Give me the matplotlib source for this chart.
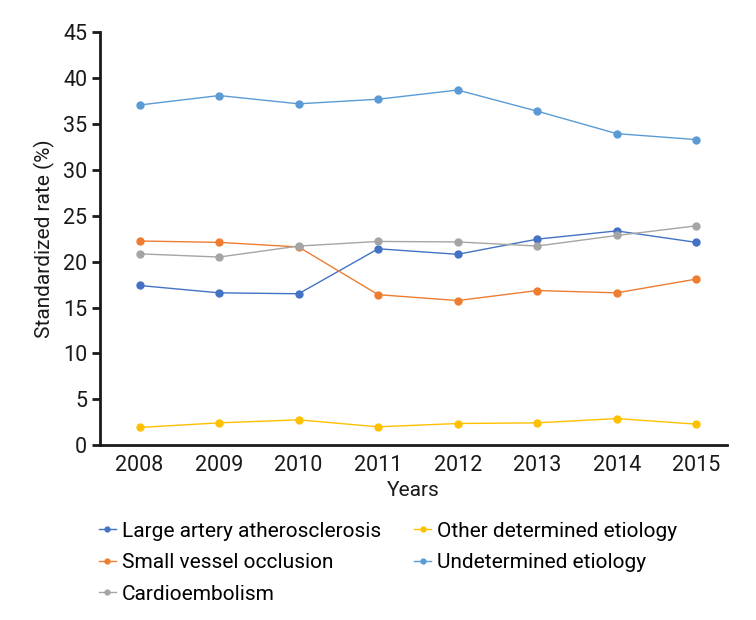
import matplotlib.pyplot as plt

plt.rcParams['font.family'] = ['Roboto', 'DejaVu Sans']

years = [2008, 2009, 2010, 2011, 2012, 2013, 2014, 2015]
large_artery = [17.4, 16.6, 16.5, 21.4, 20.8, 22.45, 23.35, 22.1]
small_vessel = [22.25, 22.1, 21.6, 16.4, 15.76, 16.85, 16.6, 18.1]
cardioembolism = [20.85, 20.5, 21.7, 22.2, 22.15, 21.7, 22.85, 23.9]
other_determined = [1.93, 2.43, 2.76, 2.0, 2.36, 2.43, 2.9, 2.29]
undetermined = [37.07, 38.1, 37.2, 37.7, 38.7, 36.4, 33.95, 33.3]

series = [
    ('Large artery atherosclerosis', large_artery, '#4472C4'),
    ('Small vessel occlusion', small_vessel, '#ED7D31'),
    ('Cardioembolism', cardioembolism, '#A5A5A5'),
    ('Other determined etiology', other_determined, '#FFC000'),
    ('Undetermined etiology', undetermined, '#5B9BD5'),
]

fig = plt.figure(figsize=(7.56, 6.2), dpi=100)
ax = fig.add_axes([0.132, 0.282, 0.83, 0.666])

for name, vals, color in series:
    ax.plot(years, vals, color=color, lw=1, marker='o', ms=5, label=name)

ax.set_xlim(2007.5, 2015.39)
ax.set_ylim(0, 45)
ax.set_yticks(range(0, 46, 5))
ax.set_xticks(years)

for side in ['top', 'right']:
    ax.spines[side].set_visible(False)
for side in ['left', 'bottom']:
    ax.spines[side].set_linewidth(2)
    ax.spines[side].set_color('#1a1a1a')

ax.tick_params(axis='y', length=6, width=2, labelsize=15.5, colors='#1a1a1a', pad=3)
ax.tick_params(axis='x', length=0, labelsize=15.5, colors='#1a1a1a', pad=7)

ax.set_ylabel('Standardized rate (%)', fontsize=15, color='#1a1a1a', labelpad=6)
ax.set_xlabel('Years', fontsize=15, color='#1a1a1a', labelpad=4)

handles, labels = ax.get_legend_handles_labels()
fig.legend(handles, labels, loc='upper left', bbox_to_anchor=(0.12, 0.172),
           ncol=2, frameon=False, fontsize=15, handlelength=0.8,
           handletextpad=0.3, columnspacing=1.6, labelspacing=0.6,
           markerscale=0.7, borderaxespad=0)

fig.savefig('out.png', dpi=100)
